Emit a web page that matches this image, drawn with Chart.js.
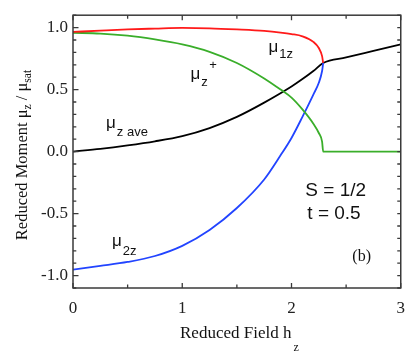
<!DOCTYPE html>
<html>
<head>
<meta charset="utf-8">
<script src="https://cdn.jsdelivr.net/npm/chart.js@4.4.1/dist/chart.umd.min.js"></script>
<style>
  html, body { margin: 0; padding: 0; background: #ffffff; }
  #wrap { width: 415px; height: 356px; }
</style>
</head>
<body>
<div id="wrap"><canvas id="c" width="415" height="356"></canvas></div>
<script>
// ---- Data ----
const hOrdered = [0, 0.25, 0.5, 0.75, 1.0, 1.25, 1.5, 1.75, 1.9, 2.0, 2.1, 2.2, 2.25, 2.28, 2.29];
const mu1z     = [0.965, 0.976, 0.986, 0.992, 0.997, 0.994, 0.985, 0.973, 0.96, 0.948, 0.93, 0.885, 0.835, 0.77, 0.715];
const mu2z     = [-0.952, -0.922, -0.89, -0.842, -0.76, -0.632, -0.455, -0.225, -0.03, 0.11, 0.28, 0.46, 0.555, 0.65, 0.715];
const hPlus    = [0, 0.25, 0.5, 0.75, 1.0, 1.25, 1.5, 1.75, 1.9, 2.0, 2.1, 2.2, 2.25, 2.28, 2.29, 3.0];
const muPlus   = [0.958, 0.952, 0.935, 0.905, 0.865, 0.805, 0.715, 0.59, 0.50, 0.435, 0.34, 0.225, 0.15, 0.08, 0.0, 0.0];
const hAve     = [0, 0.25, 0.5, 0.75, 1.0, 1.25, 1.5, 1.75, 2.0, 2.1, 2.2, 2.29, 2.5, 2.75, 3.0];
const muAve    = [0, 0.022, 0.05, 0.083, 0.125, 0.19, 0.28, 0.395, 0.525, 0.585, 0.65, 0.715, 0.759, 0.812, 0.865];

const xTickLabels = ['0', '1', '2', '3'];
const yTickLabels = ['-1.0', '-0.5', '0.0', '0.5', '1.0'];

// ---- helpers ----
function pts(xs, ys) { return xs.map((x, i) => ({ x: x, y: ys[i] })); }

const SERIF = '"Liberation Serif", "Times New Roman", serif';
const SANS = '"Liberation Sans", Arial, sans-serif';

// annotations in data coordinates
const notes = [
  { h: 1.79, v: 0.80, main: 'μ', sub: '1z', font: SANS, size: 17, subSize: 13, subDy: 6 },
  { h: 1.076, v: 0.588, main: 'μ', sub: 'z', sup: '+', font: SANS, size: 17, subSize: 13, subDy: 7 },
  { h: 0.302, v: 0.19, main: 'μ', sub: 'z ave', font: SANS, size: 17, subSize: 13, subDy: 8 },
  { h: 0.357, v: -0.76, main: 'μ', sub: '2z', font: SANS, size: 17, subSize: 13, subDy: 9 },
  { h: 2.127, v: -0.36, main: 'S = 1/2', font: SANS, size: 19 },
  { h: 2.145, v: -0.545, main: 't = 0.5', font: SANS, size: 19 },
  { h: 2.557, v: -0.885, main: '(b)', font: SERIF, size: 16 }
];

const framePlugin = {
  id: 'frame',
  afterDraw(chart) {
    const ctx = chart.ctx;
    const a = chart.chartArea;
    const xs = chart.scales.x, ys = chart.scales.y;
    ctx.save();
    ctx.strokeStyle = '#3a3a3a';
    ctx.lineWidth = 1.5;
    ctx.strokeRect(a.left, a.top, a.right - a.left, a.bottom - a.top);
    ctx.lineWidth = 1.3;
    xs.ticks.forEach(t => {
      const p = xs.getPixelForValue(t.value);
      const major = Math.abs(t.value - Math.round(t.value)) < 1e-6;
      const L = major ? 5 : 3.5;
      ctx.beginPath();
      ctx.moveTo(p, a.bottom); ctx.lineTo(p, a.bottom - L);
      ctx.moveTo(p, a.top); ctx.lineTo(p, a.top + L);
      ctx.stroke();
    });
    ys.ticks.forEach(t => {
      const p = ys.getPixelForValue(t.value);
      const major = Math.abs(t.value * 2 - Math.round(t.value * 2)) < 1e-6;
      const L = major ? 5.5 : 3.3;
      ctx.beginPath();
      ctx.moveTo(a.left, p); ctx.lineTo(a.left + L, p);
      ctx.moveTo(a.right, p); ctx.lineTo(a.right - 3.5, p);
      ctx.stroke();
    });
    ctx.fillStyle = '#111';
    ctx.textBaseline = 'alphabetic';
    ctx.textAlign = 'left';
    notes.forEach(n => {
      const x = xs.getPixelForValue(n.h);
      const y = ys.getPixelForValue(n.v);
      ctx.font = n.size + 'px ' + n.font;
      ctx.fillText(n.main, x, y);
      const w = ctx.measureText(n.main).width;
      if (n.sub) {
        ctx.font = n.subSize + 'px ' + n.font;
        ctx.fillText(n.sub, x + w + 1, y + n.subDy);
      }
      if (n.sup) {
        ctx.font = n.subSize + 'px ' + n.font;
        ctx.fillText(n.sup, x + w + 9, y - 10);
      }
    });
    // x title
    ctx.font = '17px ' + SERIF;
    const xt = 'Reduced Field h';
    ctx.fillText(xt, 180, 338);
    const xtw = ctx.measureText(xt).width;
    ctx.font = '12px ' + SERIF;
    ctx.fillText('z', 180 + xtw + 2, 351);
    // y title (rotated)
    ctx.translate(27, 155);
    ctx.rotate(-Math.PI / 2);
    const parts = [
      { t: 'Reduced Moment ', s: 16.5, dy: 0 },
      { t: 'μ', s: 16.5, dy: 0 },
      { t: 'z', s: 11.5, dy: 4 },
      { t: ' / ', s: 16.5, dy: 0 },
      { t: 'μ', s: 16.5, dy: 0 },
      { t: 'sat', s: 11.5, dy: 4 }
    ];
    let total = 0;
    parts.forEach(p => { ctx.font = p.s + 'px ' + SERIF; p.w = ctx.measureText(p.t).width; total += p.w; });
    let cx = -total / 2;
    parts.forEach(p => { ctx.font = p.s + 'px ' + SERIF; ctx.fillText(p.t, cx, p.dy); cx += p.w; });
    ctx.restore();
  }
};

const ds = (label, data, color) => ({
  label: label,
  data: data,
  borderColor: color,
  backgroundColor: color,
  borderWidth: 1.8,
  pointRadius: 0,
  showLine: true,
  fill: false,
  cubicInterpolationMode: 'monotone'
});

new Chart(document.getElementById('c'), {
  type: 'scatter',
  data: {
    datasets: [
      ds('μ1z', pts(hOrdered, mu1z), '#ff1a1a'),
      ds('μz+', pts(hPlus, muPlus), '#3aae2a'),
      ds('μ2z', pts(hOrdered, mu2z), '#2244ff'),
      ds('μz ave', pts(hAve, muAve), '#000000')
    ]
  },
  options: {
    responsive: false,
    animation: false,
    layout: { padding: { top: 14, right: 8, left: 0, bottom: 0 } },
    plugins: { legend: { display: false }, tooltip: { enabled: false } },
    scales: {
      x: {
        type: 'linear', min: 0, max: 3,
        grid: { display: false, drawTicks: false },
        border: { display: false },
        afterFit: s => { s.height = 68; },
        ticks: {
          stepSize: 0.5, autoSkip: false, maxRotation: 0, padding: 10,
          color: '#222', font: { family: SERIF, size: 17 },
          callback: v => {
            const i = xTickLabels.indexOf(String(Math.round(v)));
            return (Math.abs(v - Math.round(v)) < 1e-6 && i >= 0) ? xTickLabels[i] : '';
          }
        }
      },
      y: {
        type: 'linear', min: -1.1, max: 1.1,
        grid: { display: false, drawTicks: false },
        border: { display: false },
        afterFit: s => { s.width = 73; },
        ticks: {
          stepSize: 0.1, autoSkip: false, padding: 5,
          color: '#222', font: { family: SERIF, size: 17 },
          callback: v => {
            if (Math.abs(v * 2 - Math.round(v * 2)) > 1e-6) return '';
            const lbl = (Math.abs(v) < 1e-9 ? 0 : v).toFixed(1);
            return yTickLabels.indexOf(lbl) >= 0 ? lbl : '';
          }
        }
      }
    }
  },
  plugins: [framePlugin]
});
</script>
</body>
</html>
